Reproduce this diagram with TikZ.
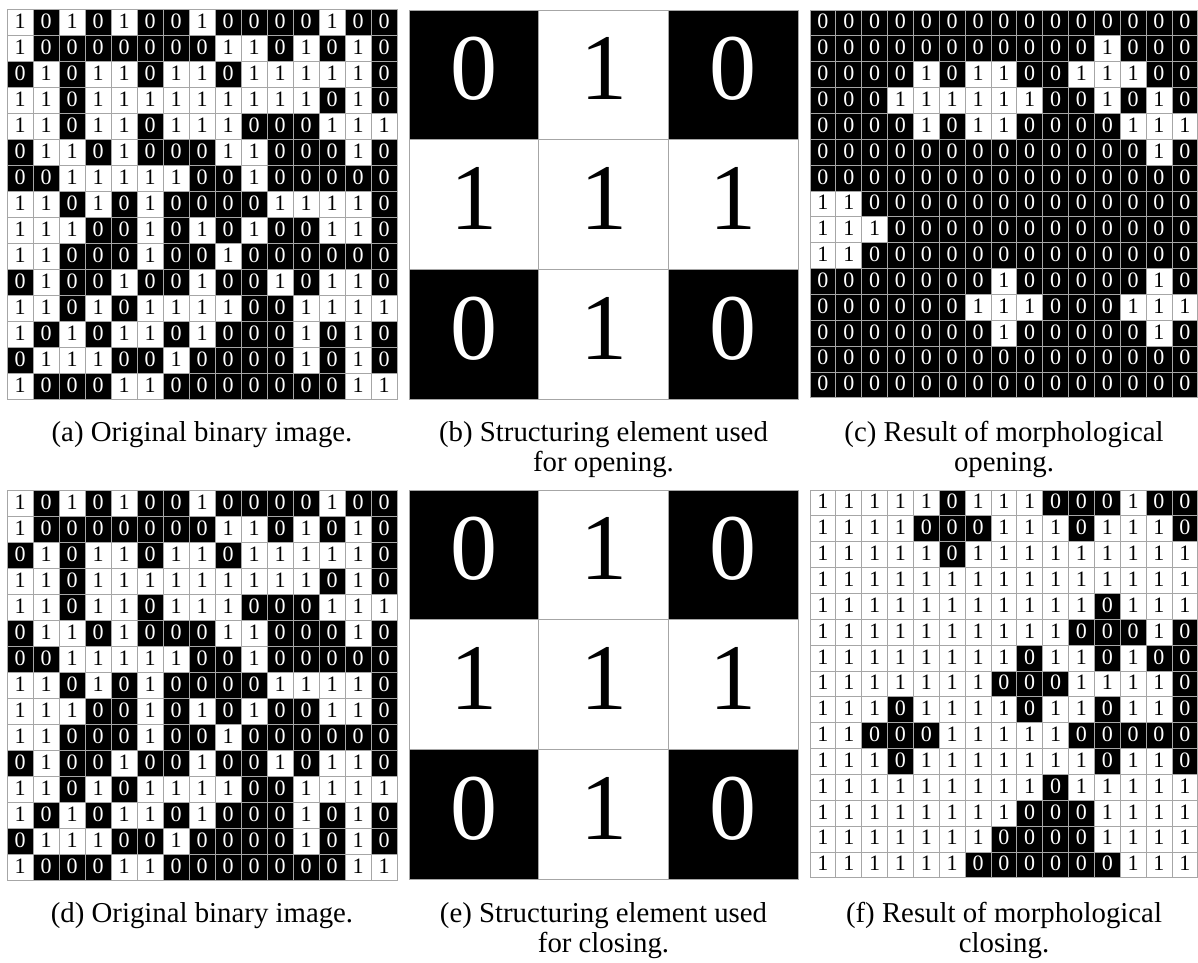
\documentclass[tikz,border=0pt]{standalone}
\usepackage{fontspec}
\setmainfont{Liberation Serif}
\tikzset{
  gridcell/.style={draw=gray!70, line width=0.8pt, minimum size=#1, inner sep=0pt, outer sep=0pt, anchor=center},
  cell0/.style={fill=black, text=white},
  cell1/.style={fill=white, text=black},
  smalldigit/.style={font=\fontsize{22}{22}\selectfont, text height=15pt, text depth=3pt},
  bigdigit/.style={font=\fontsize{94}{94}\selectfont, text height=63pt, text depth=13pt},
  caption/.style={font=\fontsize{28.8}{30}\selectfont, align=center, anchor=base, inner sep=0pt}
}
\newcommand\bingrid[6]{%
  \foreach \row [count=\i] in #6 {
    \foreach \v [count=\j] in \row {
      \node[gridcell=#4, cell\v, #5] (#1-\i-\j) at ({#2+(\j-0.5)*#4},{#3+(\i-0.5)*#4}) {\v};
    }
  }
}
\newcommand\origrows{{1,0,1,0,1,0,0,1,0,0,0,0,1,0,0},
{1,0,0,0,0,0,0,0,1,1,0,1,0,1,0},
{0,1,0,1,1,0,1,1,0,1,1,1,1,1,0},
{1,1,0,1,1,1,1,1,1,1,1,1,0,1,0},
{1,1,0,1,1,0,1,1,1,0,0,0,1,1,1},
{0,1,1,0,1,0,0,0,1,1,0,0,0,1,0},
{0,0,1,1,1,1,1,0,0,1,0,0,0,0,0},
{1,1,0,1,0,1,0,0,0,0,1,1,1,1,0},
{1,1,1,0,0,1,0,1,0,1,0,0,1,1,0},
{1,1,0,0,0,1,0,0,1,0,0,0,0,0,0},
{0,1,0,0,1,0,0,1,0,0,1,0,1,1,0},
{1,1,0,1,0,1,1,1,1,0,0,1,1,1,1},
{1,0,1,0,1,1,0,1,0,0,0,1,0,1,0},
{0,1,1,1,0,0,1,0,0,0,0,1,0,1,0},
{1,0,0,0,1,1,0,0,0,0,0,0,0,1,1}}
\newcommand\serows{{0,1,0},{1,1,1},{0,1,0}}
\newcommand\openrows{{0,0,0,0,0,0,0,0,0,0,0,0,0,0,0},
{0,0,0,0,0,0,0,0,0,0,0,1,0,0,0},
{0,0,0,0,1,0,1,1,0,0,1,1,1,0,0},
{0,0,0,1,1,1,1,1,1,0,0,1,0,1,0},
{0,0,0,0,1,0,1,1,0,0,0,0,1,1,1},
{0,0,0,0,0,0,0,0,0,0,0,0,0,1,0},
{0,0,0,0,0,0,0,0,0,0,0,0,0,0,0},
{1,1,0,0,0,0,0,0,0,0,0,0,0,0,0},
{1,1,1,0,0,0,0,0,0,0,0,0,0,0,0},
{1,1,0,0,0,0,0,0,0,0,0,0,0,0,0},
{0,0,0,0,0,0,0,1,0,0,0,0,0,1,0},
{0,0,0,0,0,0,1,1,1,0,0,0,1,1,1},
{0,0,0,0,0,0,0,1,0,0,0,0,0,1,0},
{0,0,0,0,0,0,0,0,0,0,0,0,0,0,0},
{0,0,0,0,0,0,0,0,0,0,0,0,0,0,0}}
\newcommand\closerows{{1,1,1,1,1,0,1,1,1,0,0,0,1,0,0},
{1,1,1,1,0,0,0,1,1,1,0,1,1,1,0},
{1,1,1,1,1,0,1,1,1,1,1,1,1,1,1},
{1,1,1,1,1,1,1,1,1,1,1,1,1,1,1},
{1,1,1,1,1,1,1,1,1,1,1,0,1,1,1},
{1,1,1,1,1,1,1,1,1,1,0,0,0,1,0},
{1,1,1,1,1,1,1,1,0,1,1,0,1,0,0},
{1,1,1,1,1,1,1,0,0,0,1,1,1,1,0},
{1,1,1,0,1,1,1,1,0,1,1,0,1,1,0},
{1,1,0,0,0,1,1,1,1,1,0,0,0,0,0},
{1,1,1,0,1,1,1,1,1,1,1,0,1,1,0},
{1,1,1,1,1,1,1,1,1,0,1,1,1,1,1},
{1,1,1,1,1,1,1,1,0,0,0,1,1,1,1},
{1,1,1,1,1,1,1,0,0,0,0,1,1,1,1},
{1,1,1,1,1,1,0,0,0,0,0,0,1,1,1}}
\begin{document}
\begin{tikzpicture}[x=1pt,y=-1pt]
\useasboundingbox[fill=white] (0,0) rectangle (1198,962);
% top row
\bingrid{a}{7}{9}{26}{smalldigit}{\origrows}
\bingrid{b}{409}{10}{129.7}{bigdigit}{\serows}
\bingrid{c}{810}{10}{25.85}{smalldigit}{\openrows}
% bottom row
\bingrid{d}{7}{490}{26}{smalldigit}{\origrows}
\bingrid{e}{409}{490}{129.7}{bigdigit}{\serows}
\bingrid{f}{810}{490}{25.85}{smalldigit}{\closerows}
% captions
\node[caption] (capa) at (202,441) {(a) Original binary image.};
\node[caption] (capb) at (603.5,441) {(b) Structuring element used};
\node[caption] (capb2) at (603.5,471) {for opening.};
\node[caption] (capc) at (1004,441) {(c) Result of morphological};
\node[caption] (capc2) at (1004,471) {opening.};
\node[caption] (capd) at (202,922) {(d) Original binary image.};
\node[caption] (cape) at (603.5,922) {(e) Structuring element used};
\node[caption] (cape2) at (603.5,952) {for closing.};
\node[caption] (capf) at (1004,922) {(f) Result of morphological};
\node[caption] (capf2) at (1004,952) {closing.};
\end{tikzpicture}
\end{document}
